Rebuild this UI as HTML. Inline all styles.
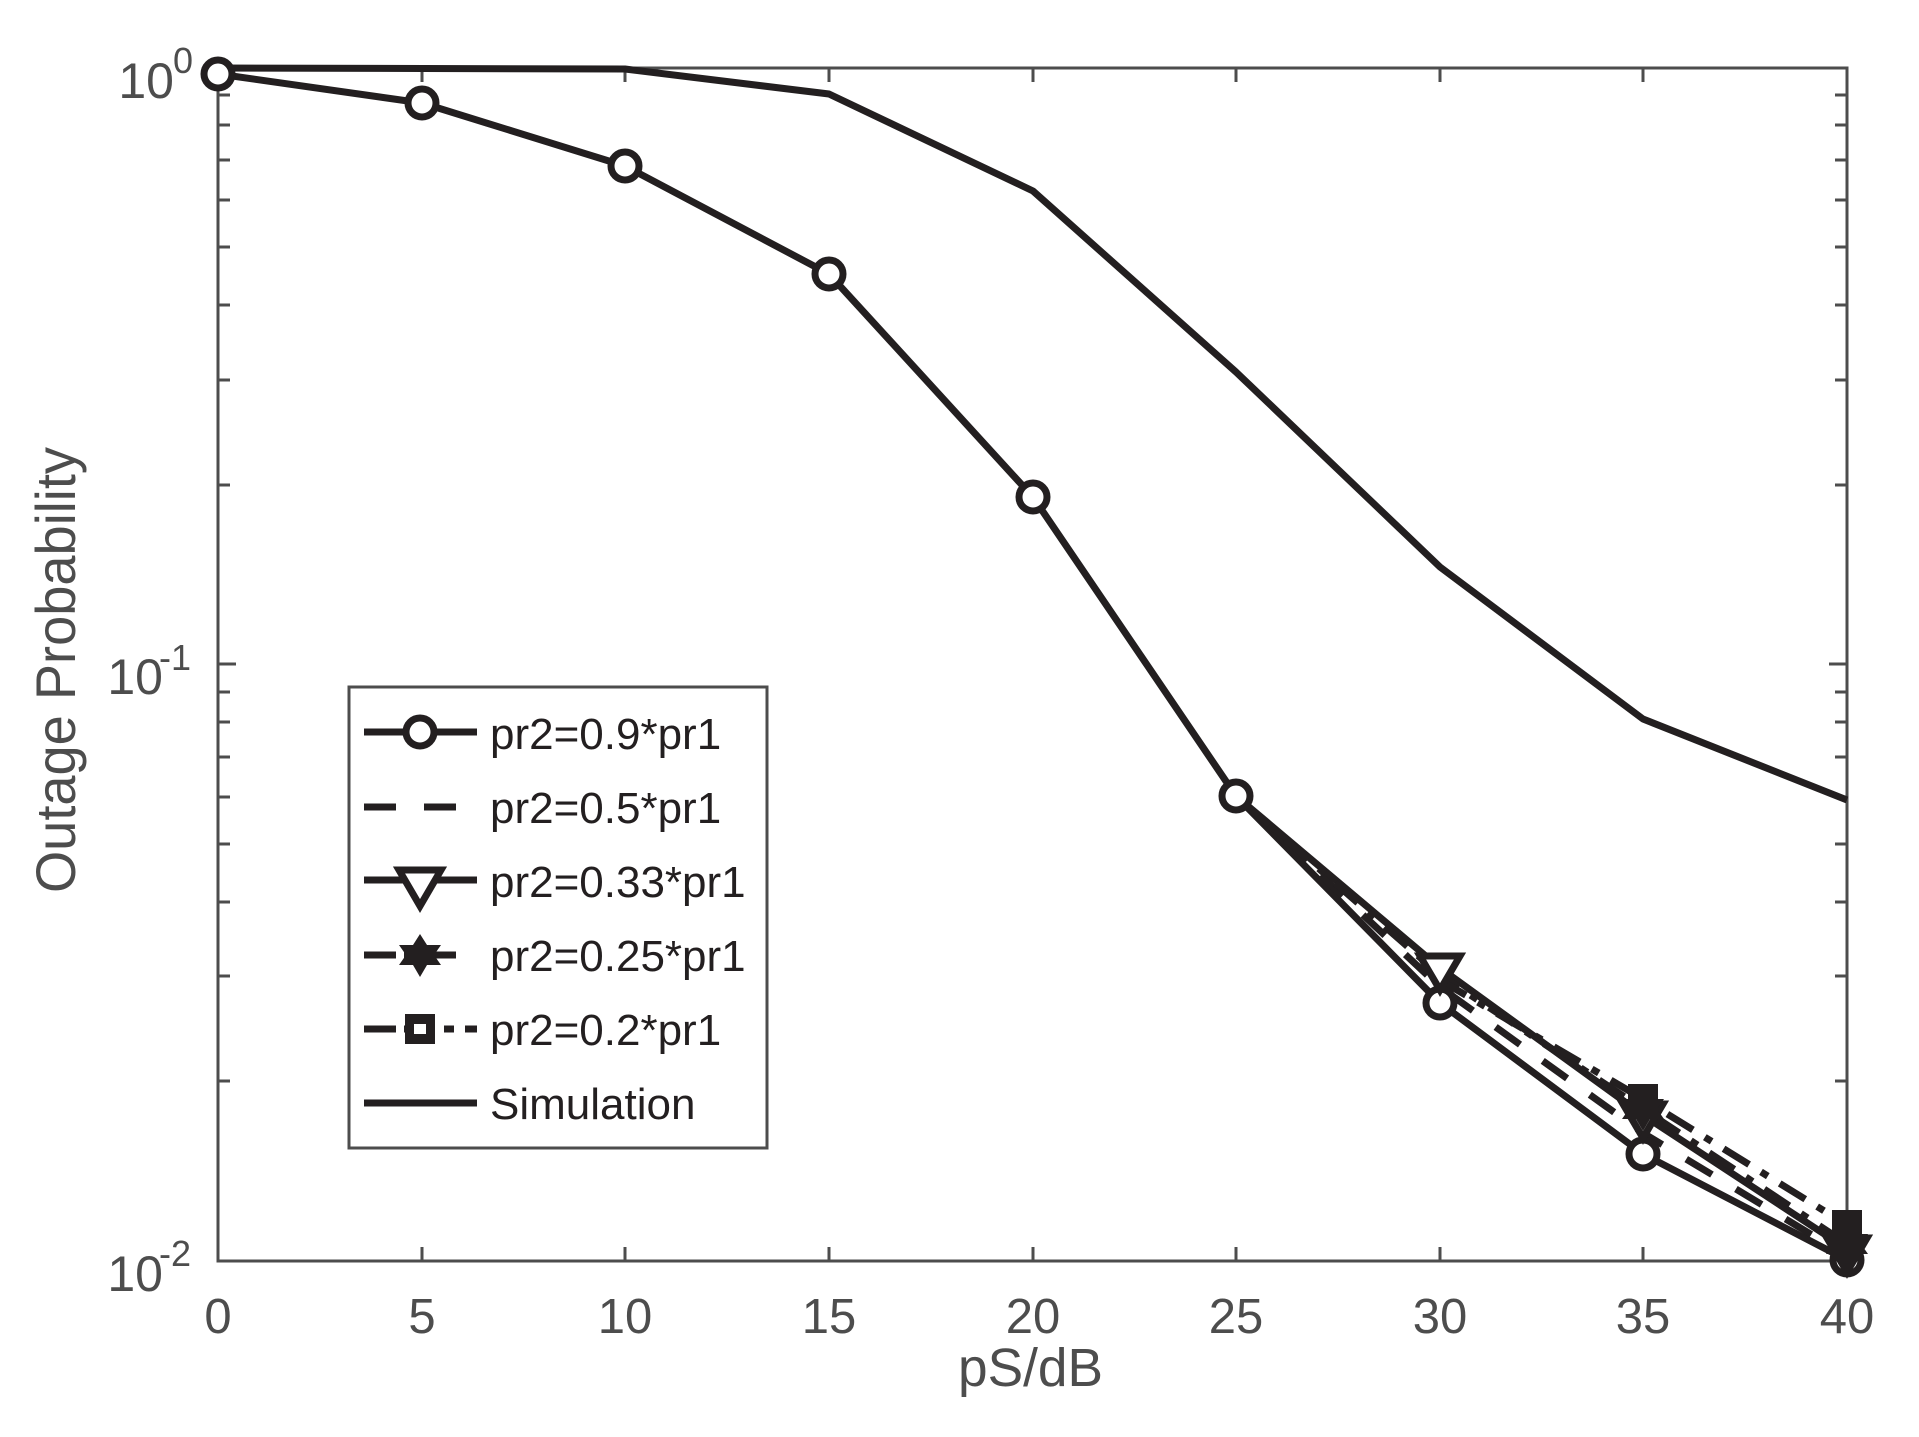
<!DOCTYPE html>
<html><head><meta charset="utf-8"><style>html,body{margin:0;padding:0;background:#fff}svg{display:block}</style></head>
<body>
<svg width="1919" height="1437" viewBox="0 0 1919 1437" xmlns="http://www.w3.org/2000/svg" font-family="Liberation Sans, Arial, sans-serif">
<rect width="1919" height="1437" fill="#fff"/>
<g stroke="#4d4d4d" stroke-width="3" fill="none">
<rect x="218" y="68" width="1629" height="1193"/>
<path d="M422 1261v-14M625 1261v-14M829 1261v-14M1033 1261v-14M1236 1261v-14M1440 1261v-14M1643 1261v-14
M422 68v14M625 68v14M829 68v14M1033 68v14M1236 68v14M1440 68v14M1643 68v14"/>
<path d="M218 1081h12M218 976h12M218 902h12M218 844h12M218 797h12M218 757h12M218 722h12M218 692h12
M218 485h12M218 380h12M218 305h12M218 247h12M218 200h12M218 160h12M218 125h12M218 95h12M218 664h18
M1847 1081h-12M1847 976h-12M1847 902h-12M1847 844h-12M1847 797h-12M1847 757h-12M1847 722h-12M1847 692h-12
M1847 485h-12M1847 380h-12M1847 305h-12M1847 247h-12M1847 200h-12M1847 160h-12M1847 125h-12M1847 95h-12M1847 664h-18"/>
</g>
<g fill="#4d4d4d" font-size="49" text-anchor="middle">
<text x="218" y="1333">0</text><text x="422" y="1333">5</text><text x="625" y="1333">10</text><text x="829" y="1333">15</text><text x="1033" y="1333">20</text><text x="1236" y="1333">25</text><text x="1440" y="1333">30</text><text x="1643" y="1333">35</text><text x="1847" y="1333">40</text>
</g>
<g fill="#4d4d4d" font-size="50" text-anchor="end">
<text x="174" y="98">10</text><text x="193" y="73" font-size="36">0</text>
<text x="163" y="694">10</text><text x="191" y="670" font-size="36">-1</text>
<text x="163" y="1291">10</text><text x="191" y="1266" font-size="36">-2</text>
</g>
<text x="958" y="1386" font-size="54" fill="#4d4d4d" textLength="145" lengthAdjust="spacingAndGlyphs">pS/dB</text>
<text transform="translate(75,893) rotate(-90)" font-size="56" fill="#4d4d4d" textLength="446" lengthAdjust="spacingAndGlyphs">Outage Probability</text>

<g stroke="#231f20" stroke-width="7" fill="none" stroke-linejoin="round">
<polyline points="218,68 625,69 829,94 1033,191 1236,372 1440,567 1643,719 1847,800"/>
<polyline points="218,74 422,103 625,166 829,274 1033,497 1236,796"/>
<polyline points="1236,796 1440,1003 1643,1154 1847,1260"/>
<polyline points="1236,796 1440,987 1643,1133 1847,1256" stroke-dasharray="30,28"/>
<polyline points="1236,796 1440,968 1643,1115 1847,1249"/>
<polyline points="1236,796 1440,975 1643,1109 1847,1244" stroke-dasharray="30,14,8,14"/>
<polyline points="1440,980 1643,1099 1847,1225" stroke-dasharray="30,14,8,14"/>
</g>
<g stroke="#231f20" stroke-width="7" fill="#fff">
<circle cx="218" cy="74" r="14"/><circle cx="422" cy="103" r="14"/><circle cx="625" cy="166" r="14"/><circle cx="829" cy="274" r="14"/><circle cx="1033" cy="497" r="14"/><circle cx="1236" cy="796" r="14"/><circle cx="1440" cy="1003" r="14"/><circle cx="1643" cy="1154" r="14"/><circle cx="1847" cy="1260" r="14"/>
<path d="M1420 956h40l-20 34z"/><path d="M1623 1104h40l-20 34z"/><path d="M1827 1238h40l-20 34z"/>
</g>
<g fill="#231f20">
<path d="M1643 1087l7 12h14l-7 10 7 10h-14l-7 12-7-12h-14l7-10-7-10h14z"/>
<path d="M1847 1222l7 12h14l-7 10 7 10h-14l-7 12-7-12h-14l7-10-7-10h14z"/>
<rect x="1628" y="1084" width="30" height="30"/><rect x="1832" y="1210" width="30" height="30"/>
</g>

<rect x="349" y="687" width="418" height="461" fill="#fff" stroke="#4d4d4d" stroke-width="3"/>
<g stroke="#231f20" stroke-width="7" fill="none">
<path d="M364 732h113"/>
<path d="M364 807h32M424 807h32"/>
<path d="M364 880h113"/>
<path d="M364 955h32M404 955h52"/>
<path d="M364 1029h32M404 1029h30M444 1029h10M465 1029h12"/>
<path d="M364 1103h113"/>
</g>
<circle cx="420" cy="732" r="14" fill="#fff" stroke="#231f20" stroke-width="7"/>
<path d="M399 870h42l-21 36z" fill="#fff" stroke="#231f20" stroke-width="7"/>
<path d="M420 934l7 11h14l-7 10 7 10h-14l-7 12-7-12h-14l7-10-7-10h14z" fill="#231f20"/>
<rect x="405" y="1014" width="30" height="30" fill="#231f20"/>
<rect x="414" y="1024" width="12" height="10" fill="#fff"/>
<g fill="#231f20" font-size="44">
<text x="490" y="749">pr2=0.9*pr1</text>
<text x="490" y="823">pr2=0.5*pr1</text>
<text x="490" y="897">pr2=0.33*pr1</text>
<text x="490" y="971">pr2=0.25*pr1</text>
<text x="490" y="1045">pr2=0.2*pr1</text>
<text x="490" y="1119">Simulation</text>
</g>
</svg>
</body></html>
